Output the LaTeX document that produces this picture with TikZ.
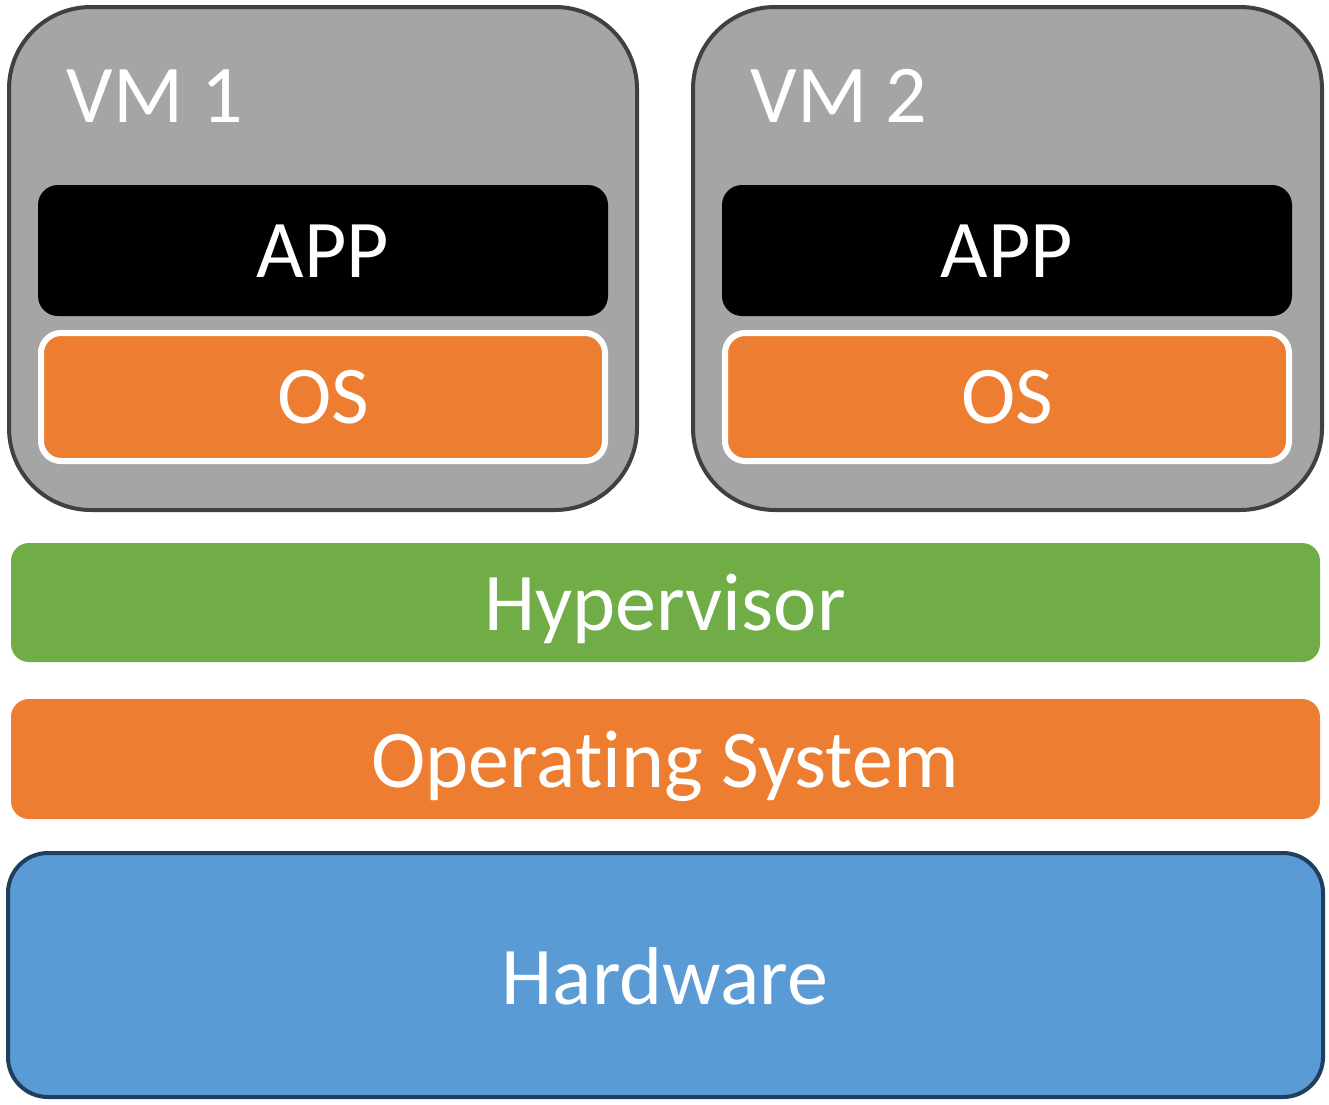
\documentclass[tikz,border=0pt]{standalone}
\usepackage{fontspec}
\setmainfont[Ligatures=NoCommon]{Carlito}
\begin{document}
\begin{tikzpicture}[x=1pt,y=-1pt,
  vmbox/.style={draw=vmedge,line width=4pt,fill=vmgray,rounded corners=82pt},
  appbox/.style={fill=black,rounded corners=20pt},
  osbox/.style={draw=white,line width=6pt,fill=osorange,rounded corners=20pt},
  layer/.style={rounded corners=18pt},
  lbl/.style={text=white,font=\fontsize{82}{96}\selectfont}
]
\definecolor{vmgray}{HTML}{A5A5A5}
\definecolor{vmedge}{HTML}{404040}
\definecolor{osorange}{HTML}{ED7D31}
\definecolor{hvgreen}{HTML}{70AD47}
\definecolor{hwblue}{HTML}{5B9BD5}
\definecolor{hwedge}{HTML}{203F5E}
\useasboundingbox (0,0) rectangle (1329,1104);

% virtual machines
\draw[vmbox] (9,7) rectangle (637,510);
\draw[vmbox] (693,7) rectangle (1322,510);
\node[lbl,anchor=base west] (vm1) at (63,122) {VM 1};
\node[lbl,anchor=base west] (vm2) at (747,122) {VM 2};

% guest stacks
\fill[appbox] (38,185) rectangle (608,316);
\node[lbl] (app1) at (323,251) {APP};
\draw[osbox] (41,333) rectangle (605,461);
\node[lbl] (os1) at (323,397) {OS};

\fill[appbox] (722,185) rectangle (1292,316);
\node[lbl] (app2) at (1007,251) {APP};
\draw[osbox] (725,333) rectangle (1289,461);
\node[lbl] (os2) at (1007,397) {OS};

% host layers
\fill[layer,hvgreen] (11,543) rectangle (1320,662);
\node[lbl] (hv) at (665,609) {Hypervisor};
\fill[layer,osorange] (11,699) rectangle (1320,819);
\node[lbl] (hos) at (665,766) {Operating System};
\draw[hwedge,fill=hwblue,line width=4pt,rounded corners=40pt] (8,853) rectangle (1323,1097);
\node[lbl] (hw) at (665,976) {Hardware};
\end{tikzpicture}
\end{document}
